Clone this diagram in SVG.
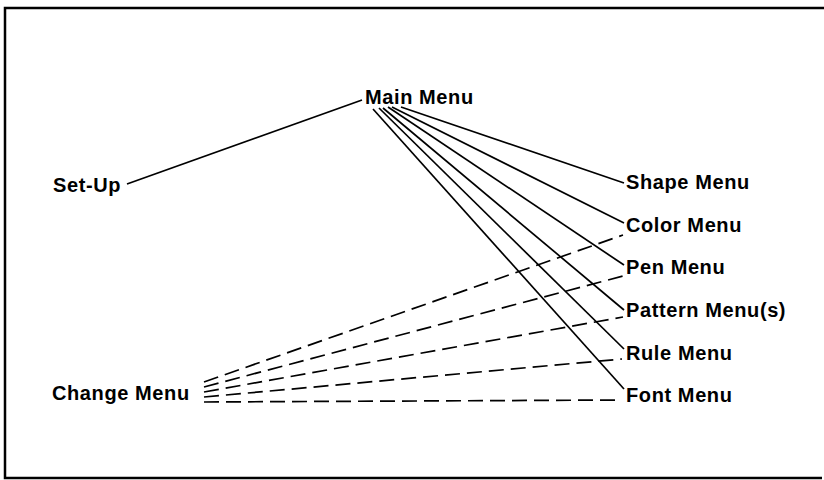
<svg xmlns="http://www.w3.org/2000/svg" width="824" height="480" viewBox="0 0 824 480">
<style>
.lbl{font-family:"Liberation Sans",Arial,sans-serif;font-weight:bold;font-size:20px;letter-spacing:0.6px;fill:#000}
.solid{stroke:#000;stroke-width:1.7;fill:none}
.dash{stroke:#000;stroke-width:1.7;fill:none;stroke-dasharray:15 7}
</style>
<rect width="824" height="480" fill="#fff"/>
<path d="M824,8 H5 V478 H822" stroke="#000" stroke-width="2.5" fill="none"/>
<g id="connectors">
<line class="solid" x1="127" y1="184" x2="362" y2="100"/>
<line class="solid" x1="401" y1="107" x2="624" y2="183"/>
<line class="solid" x1="392" y1="107" x2="624" y2="223"/>
<line class="solid" x1="388" y1="107" x2="624" y2="265"/>
<line class="solid" x1="383" y1="108" x2="624" y2="310"/>
<line class="solid" x1="379" y1="108" x2="624" y2="349"/>
<line class="solid" x1="373" y1="109" x2="624" y2="389"/>
<line class="dash" x1="204" y1="382" x2="623" y2="235"/>
<line class="dash" x1="204" y1="387" x2="623" y2="276"/>
<line class="dash" x1="204" y1="392" x2="623" y2="317"/>
<line class="dash" x1="204" y1="397" x2="622" y2="359"/>
<line class="dash" x1="204" y1="402" x2="622" y2="400"/>
</g>
<g id="main-menu"><text class="lbl" x="365" y="104">Main Menu</text></g>
<g id="set-up"><text class="lbl" x="53" y="192">Set-Up</text></g>
<g id="change-menu"><text class="lbl" x="52" y="400">Change Menu</text></g>
<g id="shape-menu"><text class="lbl" x="626" y="189">Shape Menu</text></g>
<g id="color-menu"><text class="lbl" x="626" y="232">Color Menu</text></g>
<g id="pen-menu"><text class="lbl" x="626" y="274">Pen Menu</text></g>
<g id="pattern-menu"><text class="lbl" x="626" y="317">Pattern Menu(s)</text></g>
<g id="rule-menu"><text class="lbl" x="626" y="360">Rule Menu</text></g>
<g id="font-menu"><text class="lbl" x="626" y="402">Font Menu</text></g>
</svg>
